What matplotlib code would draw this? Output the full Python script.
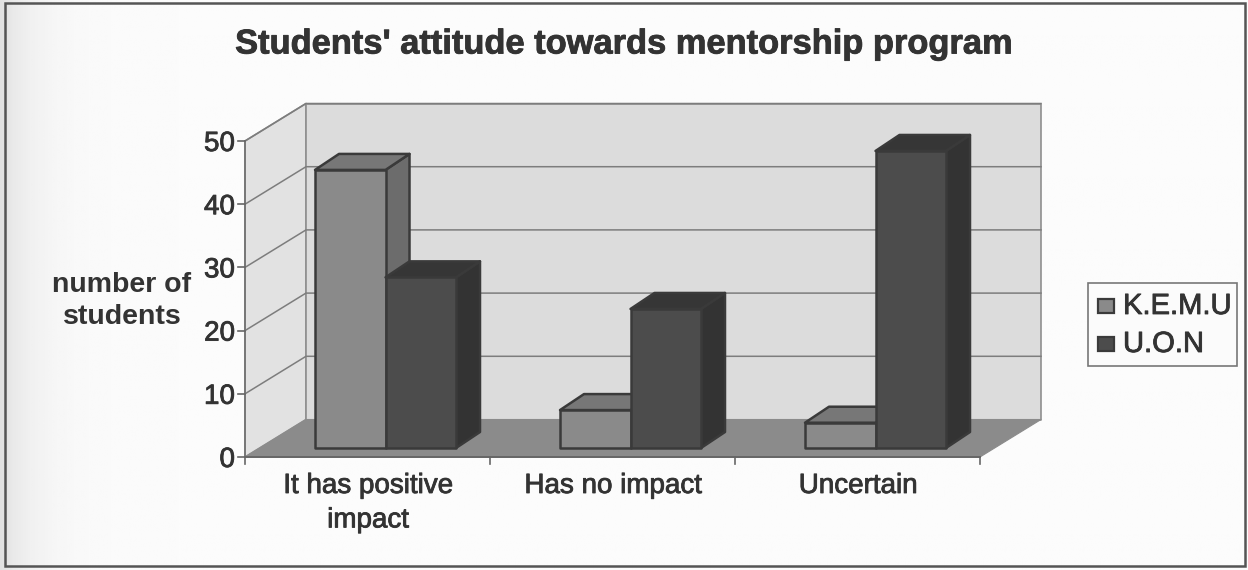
import numpy as np
import matplotlib
matplotlib.use("Agg")
import matplotlib.pyplot as plt
import matplotlib.patheffects as pe
from matplotlib.patches import Polygon, Rectangle

plt.rcParams['font.family'] = ['Liberation Sans', 'DejaVu Sans']

categories = ["It has positive\nimpact", "Has no impact", "Uncertain"]
kemu = [44, 6, 4]
uon = [27, 22, 47]
series_names = ["K.E.M.U", "U.O.N"]
y_ticks = [0, 10, 20, 30, 40, 50]

W, H = 1248, 570
X0, Y0 = 245, 457      # pixel of category 0 / value 0
PX_CAT, PX_VAL = 245, 6.32

fig = plt.figure(figsize=(W / 100, H / 100), dpi=100)
ax = fig.add_axes([0, 0, 1, 1])
ax.set_xlim(-X0 / PX_CAT, (W - X0) / PX_CAT)
ax.set_ylim((Y0 - H) / PX_VAL, Y0 / PX_VAL)
ax.axis("off")

# 3d offsets, in data units
WALL_DX, WALL_DY = 61 / PX_CAT, 37.5 / PX_VAL
BAR_OX, BAR_OY = 70 / PX_CAT, 9 / PX_VAL
BAR_W = 70.5 / PX_CAT
BAR_DX, BAR_DY = 24 / PX_CAT, 16 / PX_VAL
EDGE = "#3a3a3a"
GRID = "#8f8f8f"
TXT = "#333333"
# scanned text looks heavier than the plain font
heavy = [pe.withStroke(linewidth=0.6, foreground=TXT)]
n = len(categories)
ymax = y_ticks[-1]


def poly(pts, fc, ec=EDGE, lw=1.8, z=3):
    ax.add_patch(Polygon(pts, closed=True, facecolor=fc, edgecolor=ec, linewidth=lw, zorder=z, joinstyle="round"))


# paper background, grey fade on the left
xs = np.linspace(0, W, 512)
bg = np.ones((8, 512)) * (0.985 - 0.10 * np.exp(-xs / 35))
ax.imshow(bg, cmap="gray", vmin=0, vmax=1, aspect="auto", zorder=0,
          extent=[ax.get_xlim()[0], ax.get_xlim()[1], ax.get_ylim()[0], ax.get_ylim()[1]])

# outer frame
ax.add_patch(Rectangle((-X0 / PX_CAT + 5 / PX_CAT, (Y0 - 566) / PX_VAL), 1240 / PX_CAT, 563 / PX_VAL,
                       fill=False, edgecolor="#555555", linewidth=1.8, zorder=1))

# walls and floor
poly([(0, 0), (WALL_DX, WALL_DY), (WALL_DX, ymax + WALL_DY), (0, ymax)], "#e2e2e2", GRID, 1.2, 1.5)
poly([(WALL_DX, WALL_DY), (n + WALL_DX, WALL_DY), (n + WALL_DX, ymax + WALL_DY), (WALL_DX, ymax + WALL_DY)],
     "#dcdcdc", GRID, 1.2, 1.5)
poly([(0, 0), (n, 0), (n + WALL_DX, WALL_DY), (WALL_DX, WALL_DY)], "#8b8b8b", "#8b8b8b", 0.8, 1.6)

# gridlines
for t in y_ticks[1:]:
    ax.plot([0, WALL_DX, n + WALL_DX], [t, t + WALL_DY, t + WALL_DY], color="#7d7d7d", lw=1.1, zorder=1.8)

# axes and ticks
ax.plot([0, 0], [0, ymax], color="#777777", lw=1.4, zorder=2)
ax.plot([0, n], [0, 0], color="#666666", lw=1.4, zorder=2)
for t in y_ticks:
    ax.plot([-7 / PX_CAT, 0], [t, t], color="#666666", lw=1.2, zorder=2)
    ax.text(-10 / PX_CAT, t - 3 / PX_VAL, str(t), ha="right", va="center", fontsize=20, color=TXT, zorder=5,
            path_effects=heavy)
for i in range(n + 1):
    ax.plot([i, i], [0, -7 / PX_VAL], color="#666666", lw=1.2, zorder=2)
for i, c in enumerate(categories):
    ax.text(i + 0.5 + 0.002, -16 / PX_VAL, c, ha="center", va="top", fontsize=20, color=TXT,
            linespacing=1.42, zorder=5, path_effects=heavy)


def bar3d(x, v, front, side, top):
    y = BAR_OY
    poly([(x + BAR_W, y), (x + BAR_W + BAR_DX, y + BAR_DY), (x + BAR_W + BAR_DX, y + v + BAR_DY), (x + BAR_W, y + v)], side)
    poly([(x, y + v), (x + BAR_W, y + v), (x + BAR_W + BAR_DX, y + v + BAR_DY), (x + BAR_DX, y + v + BAR_DY)], top)
    poly([(x, y), (x + BAR_W, y), (x + BAR_W, y + v), (x, y + v)], front)


for i in range(n):
    x = i + BAR_OX
    bar3d(x, kemu[i], "#8a8a8a", "#6c6c6c", "#777777")
    bar3d(x + BAR_W, uon[i], "#4c4c4c", "#333333", "#363636")

# title and y label
fig.text(624 / W, 1 - 45 / H, "Students' attitude towards mentorship program", ha="center", va="center",
         fontsize=24.8, fontweight="bold", color=TXT, path_effects=heavy)
fig.text(122 / W, 1 - 301 / H, "number of\nstudents", ha="center", va="center", fontsize=20.5,
         fontweight="bold", color=TXT, linespacing=1.32)

# legend
ax.add_patch(Rectangle(((1088 - X0) / PX_CAT, (Y0 - 366) / PX_VAL), 149 / PX_CAT, 83 / PX_VAL,
                       facecolor="#fbfbfb", edgecolor="#777777", linewidth=1.2, zorder=2))
for name, col, py in zip(series_names, ["#8a8a8a", "#4c4c4c"], [306, 344]):
    ax.add_patch(Rectangle(((1098 - X0) / PX_CAT, (Y0 - py - 7) / PX_VAL), 16 / PX_CAT, 14 / PX_VAL,
                           facecolor=col, edgecolor=EDGE, linewidth=1.6, zorder=3))
    ax.text((1123 - X0) / PX_CAT, (Y0 - py) / PX_VAL, name, ha="left", va="center", fontsize=21,
            color=TXT, zorder=5, path_effects=heavy)

fig.savefig("out.png", dpi=100)
